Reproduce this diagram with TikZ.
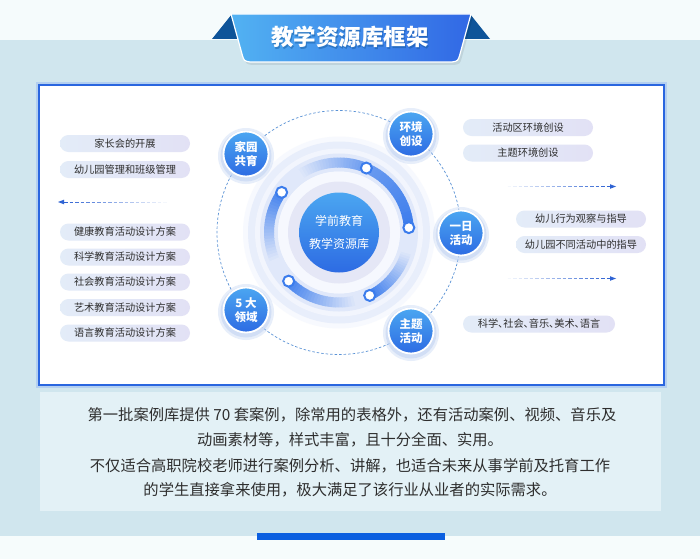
\documentclass[tikz,border=0pt]{standalone}
\usepackage{fontspec}
\setmainfont{Noto Sans CJK SC}
\usetikzlibrary{calc}
\definecolor{topbg}{HTML}{F5FBFC}
\definecolor{bandbg}{HTML}{D0E6EE}
\definecolor{botbg}{HTML}{F6FCFC}
\definecolor{panelbg}{HTML}{E3F1F6}
\definecolor{boxblue}{HTML}{2A66DF}
\definecolor{boxglow}{HTML}{B3CFF0}
\definecolor{barblue}{HTML}{0B5FE0}
\definecolor{dkblue}{HTML}{0E5499}
\definecolor{banL}{HTML}{52B2F2}
\definecolor{banR}{HTML}{3168E5}
\definecolor{txt}{HTML}{2E2E2E}
\definecolor{pillL}{HTML}{E3ECF8}
\definecolor{pillR}{HTML}{E2E1F5}
\definecolor{bubT}{HTML}{4BA6F1}
\definecolor{bubB}{HTML}{2D6BE3}
\definecolor{arcB}{HTML}{3B7CEC}
\definecolor{trackC}{HTML}{E0E8FA}
\definecolor{diskA}{HTML}{E8EEFB}
\definecolor{diskB}{HTML}{F2F5FD}
\definecolor{diskC}{HTML}{F6F8FE}
\definecolor{lav}{HTML}{E5E7F6}
\definecolor{dashc}{HTML}{5B93D6}
\definecolor{arrc}{HTML}{2F63D3}
\definecolor{glowc}{HTML}{BCD0F2}
\newcommand\myfs[2]{\fontsize{#1}{#2}\selectfont}
% gradient arc: visual angles #1 -> #2, blue percentage #3 -> #4
\newcommand\gradarc[4]{%
  \foreach \i in {0,...,23}{%
    \pgfmathsetmacro\aa{-(#1+(#2-#1)*\i/24)}%
    \pgfmathsetmacro\bb{-(#1+(#2-#1)*(\i+1.2)/24)}%
    \pgfmathtruncatemacro\pp{#3+(#4-#3)*\i/23}%
    \draw[line width=10pt, draw=arcB!\pp!trackC] ($(C)+(\aa:70)$) arc[start angle=\aa, end angle=\bb, radius=70];
  }}
\begin{document}
\begin{tikzpicture}[x=1pt,y=-1pt,
  pill/.style={rounded corners=8.5pt, minimum height=17pt, inner sep=0pt,
    left color=pillL, right color=pillR, font=\myfs{10.2}{12}, text=txt},
  bubble/.style={circle, minimum size=45pt, inner sep=0pt, draw=white, line width=1.8pt,
    top color=bubT, bottom color=bubB, text=white, font=\myfs{11.5}{14}\bfseries, align=center},
  dotn/.style={circle, minimum size=11pt, inner sep=0pt, fill=white, draw=arcB, line width=2pt},
  btxt/.style={font=\myfs{15.3}{18}, text=txt, inner sep=0pt},
  dashcirc/.style={draw=dashc, line width=0.7pt, dash pattern=on 2.5pt off 2pt},
]
\useasboundingbox (0,0) rectangle (700,559);
% backgrounds
\fill[topbg] (0,0) rectangle (700,40);
\fill[bandbg] (0,40) rectangle (700,536);
\fill[botbg] (0,536) rectangle (700,559);
% main box
\draw[line width=6pt, draw=boxglow] (39,85) rectangle (664,385);
\draw[fill=white, draw=boxblue, line width=2pt] (39,85) rectangle (664,385);
% bottom panel
\fill[panelbg] (40,392) rectangle (661,511);
\fill[barblue] (257,533) rectangle (445,540);
% title banner
\fill[dkblue] (212,39) -- (232,14) -- (246,39) -- cycle;
\fill[dkblue] (490,39) -- (470,14) -- (456,39) -- cycle;
\fill[black, opacity=0.08] (233,17) -- (473,17) -- (462,57) .. controls (460,64) .. (454,65) -- (252,65) .. controls (246,64) .. (244,57) -- cycle;
\shadedraw[left color=banL, right color=banR, draw=white, line width=1.2pt]
  (231,14) -- (471,14) -- (460,54) .. controls (458,61) .. (452,62) -- (250,62) .. controls (244,61) .. (242,54) -- cycle;
\node[text=dkblue, opacity=0.45, font=\myfs{22.5}{26}\bfseries] at (351,38.5) {教学资源库框架};
\node[text=white, font=\myfs{22.5}{26}\bfseries] (title) at (350,37) {教学资源库框架};
% centre structure
\coordinate (C) at (339,232.5);
\draw[dashcirc] (C) circle[radius=122];
\fill[diskB!60!white] (C) circle[radius=96];
\fill[diskA] (C) circle[radius=91];
\fill[diskB] (C) circle[radius=84];
\draw[line width=18pt, draw=trackC] (C) circle[radius=70];
\gradarc{4}{67}{100}{72}
\gradarc{67}{125}{72}{0}
\gradarc{145}{205}{95}{0}
\gradarc{224}{285}{95}{0}
\gradarc{296}{345}{100}{0}
\fill[diskC] (C) circle[radius=61];
\fill[lav] (C) circle[radius=51];
\node[circle, minimum size=80pt, inner sep=0pt, top color=bubT, bottom color=bubB,
  text=white, font=\myfs{12}{23}, align=center] (core) at (C) {学前教育\\教学资源库};
\node[dotn] (d1) at ($(C)+(-4:70)$) {};
\node[dotn] (d2) at ($(C)+(-67:70)$) {};
\node[dotn] (d3) at ($(C)+(-145:70)$) {};
\node[dotn] (d4) at ($(C)+(-224:70)$) {};
\node[dotn] (d5) at ($(C)+(-296:70)$) {};
% bubbles
\coordinate (p1) at (246,154);
\coordinate (p2) at (411,134);
\coordinate (p3) at (461,233);
\coordinate (p4) at (411,331);
\coordinate (p5) at (246,310);
\foreach \p in {p1,p2,p3,p4,p5}{
  \fill[glowc, opacity=0.35] ($(\p)+(0,2)$) circle[radius=28];
  \fill[glowc, opacity=0.5] ($(\p)+(0,2)$) circle[radius=25.5];
}
\node[bubble] (b1) at (p1) {家园\\共育};
\node[bubble] (b2) at (p2) {环境\\创设};
\node[bubble] (b3) at (p3) {一日\\活动};
\node[bubble] (b4) at (p4) {主题\\活动};
\node[bubble] (b5) at (p5) {5 大\\领域};
% left pills
\node[pill, minimum width=130pt] (l1) at (125,143.5) {家长会的开展};
\node[pill, minimum width=130pt] (l2) at (125,169.5) {幼儿园管理和班级管理};
\node[pill, minimum width=130pt] (l3) at (125,232) {健康教育活动设计方案};
\node[pill, minimum width=130pt] (l4) at (125,257) {科学教育活动设计方案};
\node[pill, minimum width=130pt] (l5) at (125,282) {社会教育活动设计方案};
\node[pill, minimum width=130pt] (l6) at (125,307.5) {艺术教育活动设计方案};
\node[pill, minimum width=130pt] (l7) at (125,333) {语言教育活动设计方案};
% right pills
\node[pill, minimum width=130pt] (r1) at (528,127.5) {活动区环境创设};
\node[pill, minimum width=130pt] (r2) at (528,153) {主题环境创设};
\node[pill, minimum width=130pt] (r3) at (581,219) {幼儿行为观察与指导};
\node[pill, minimum width=130pt] (r4) at (581,244.5) {幼儿园不同活动中的指导};
\node[pill, minimum width=152pt] (r5) at (539,324) {\addfontfeature{RawFeature=+halt}科学、社会、音乐、美术、语言};
% dashed fading arrows
\coordinate (la) at (58,202);
\fill[arrc] (la) -- ++(6,-2.3) -- ++(0,4.6) -- cycle;
\foreach \k in {0,...,18}{
  \pgfmathsetmacro\op{1-\k/19}
  \draw[arrc, opacity=\op, line width=0.9pt] ($(la)+(6+5.5*\k,0)$) -- ++(3.5,0);
}
\coordinate (ra) at (616,186.5);
\coordinate (rb) at (616,278.5);
\foreach \q in {ra,rb}{
  \fill[arrc] (\q) -- ++(-6,-2.3) -- ++(0,4.6) -- cycle;
  \foreach \k in {0,...,18}{
    \pgfmathsetmacro\op{1-\k/19}
    \draw[arrc, opacity=\op, line width=0.9pt] ($(\q)+(-9.5-5.5*\k,0)$) -- ++(3.5,0);
  }
}
% bottom text
\node[btxt] (t1) at (352,415) {第一批案例库提供 70 套案例，除常用的表格外，还有活动案例、视频、音乐及};
\node[btxt] (t2) at (350,439.5) {动画素材等，样式丰富，且十分全面、实用。};
\node[btxt] (t3) at (350,466) {不仅适合高职院校老师进行案例分析、讲解，也适合未来从事学前及托育工作};
\node[btxt] (t4) at (350,489.5) {的学生直接拿来使用，极大满足了该行业从业者的实际需求。};
\end{tikzpicture}
\end{document}
